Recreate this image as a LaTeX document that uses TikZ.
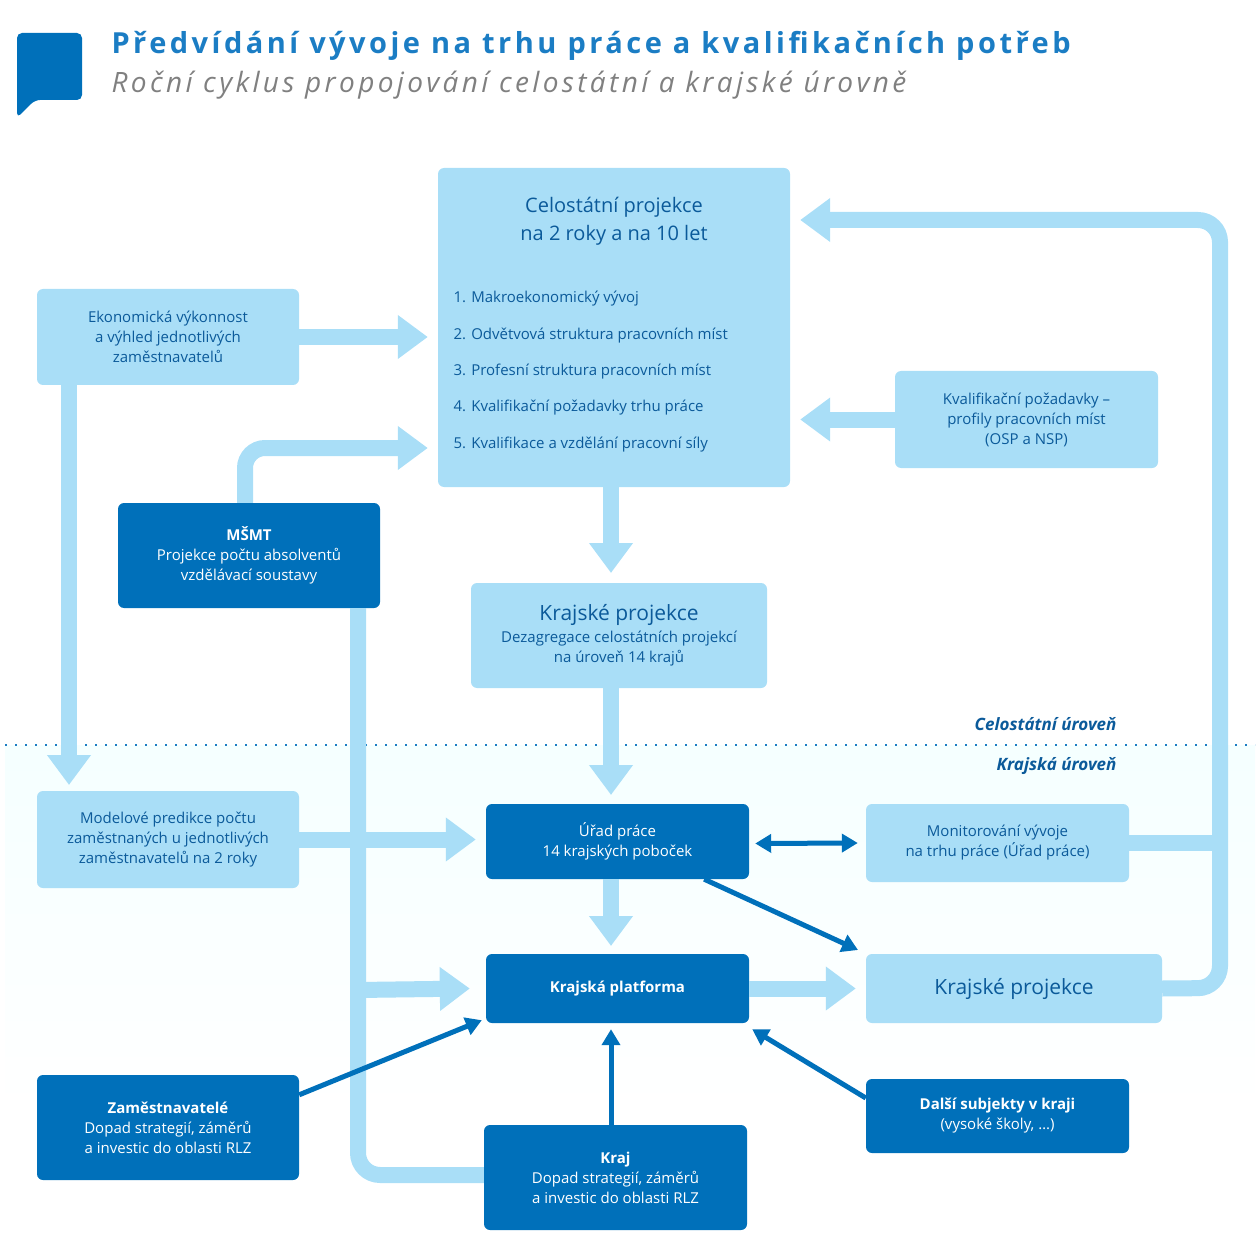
\documentclass[tikz,border=0pt]{standalone}
\usepackage{fontspec}
\setmainfont{Open Sans}
\newfontfamily\spaced[LetterSpace=12]{Open Sans}
\usetikzlibrary{arrows.meta,calc}
\definecolor{lb}{HTML}{A9DEF7}
\definecolor{db}{HTML}{0070BA}
\definecolor{tb}{HTML}{0B5A9A}
\definecolor{ttl}{HTML}{1B7DC4}
\tikzset{
 lbox/.style={fill=lb,rounded corners=6pt,align=center,text=tb,font=\fontsize{15}{20}\selectfont,inner sep=0pt},
 dbox/.style={fill=db,rounded corners=6pt,align=center,text=white,font=\fontsize{15}{20}\selectfont,inner sep=0pt},
 la/.style={draw=lb,line width=16pt,-{Triangle[width=42pt,length=30pt]}},
 ln/.style={draw=lb,line width=16pt},
 da/.style={draw=db,line width=5pt,-{Triangle[width=18pt,length=16pt]}},
}
\begin{document}
\begin{tikzpicture}[x=1pt,y=-1pt]
\useasboundingbox (0,0) rectangle (1259,1257);
\shade[top color=blue!4!cyan!4!white,bottom color=white] (5,745) rectangle (1255,1110);
\draw[ttl,line width=2.5pt,dash pattern=on 2pt off 8pt] (5,745) -- (1255,745);
% title
\fill[db,rounded corners=5pt] (17,33) -- (82,33) -- (82,100) -- (35,100) -- (17,118) -- cycle;
\node[anchor=west,text=ttl,font=\spaced\fontsize{29}{32}\selectfont\bfseries] (title) at (108,46) {Předvídání vývoje na trhu práce a kvalifikačních potřeb};
\node[anchor=west,text=gray,font=\spaced\fontsize{28}{32}\selectfont\itshape] (sub) at (108,85) {Roční cyklus propojování celostátní a krajské úrovně};
% boxes
\node[lbox,minimum width=352pt,minimum height=319pt] (A) at (614,327.5) {};
\node[text=tb,align=center,font=\fontsize{20}{28}\selectfont] (Ah) at (614,221) {Celostátní projekce\\na 2 roky a na 10 let};
\foreach \i/\t/\y in {1/1. Makroekonomický vývoj/299,2/2. Odvětvová struktura pracovních míst/336,3/3. Profesní struktura pracovních míst/372,4/4. Kvalifikační požadavky trhu práce/408,5/5. Kvalifikace a vzdělání pracovní síly/445}
  \node[anchor=west,text=tb,font=\fontsize{15}{18}\selectfont] (Al\i) at (450,\y) {\t};
\node[lbox,minimum width=262pt,minimum height=96pt] (ek) at (168,337) {Ekonomická výkonnost\\a výhled jednotlivých\\zaměstnavatelů};
\node[lbox,minimum width=263pt,minimum height=97pt] (kp) at (1026.5,419.5) {Kvalifikační požadavky –\\profily pracovních míst\\(OSP a NSP)};
\node[dbox,minimum width=262pt,minimum height=105pt] (ms) at (249,555.5) {\textbf{MŠMT}\\Projekce počtu absolventů\\vzdělávací soustavy};
\node[lbox,minimum width=296pt,minimum height=105pt] (kpm) at (619,635.5) {{\fontsize{21}{26}\selectfont Krajské projekce}\\[2pt]Dezagregace celostátních projekcí\\na úroveň 14 krajů};
\node[lbox,minimum width=262pt,minimum height=97pt] (mo) at (168,839.5) {Modelové predikce počtu\\zaměstnaných u jednotlivých\\zaměstnavatelů na 2 roky};
\node[dbox,minimum width=263pt,minimum height=75pt] (up) at (617.5,841.5) {Úřad práce\\14 krajských poboček};
\node[lbox,minimum width=263pt,minimum height=78pt] (mon) at (997.5,843) {Monitorování vývoje\\na trhu práce (Úřad práce)};
\node[dbox,minimum width=263pt,minimum height=69pt] (pl) at (617.5,988.5) {\textbf{Krajská platforma}};
\node[lbox,minimum width=296pt,minimum height=69pt] (krp) at (1014,988.5) {{\fontsize{21}{26}\selectfont Krajské projekce}};
\node[dbox,minimum width=262pt,minimum height=105pt] (za) at (168,1127.5) {\textbf{Zaměstnavatelé}\\Dopad strategií, záměrů\\a investic do oblasti RLZ};
\node[dbox,minimum width=263pt,minimum height=105pt] (kr) at (615.5,1177.5) {\textbf{Kraj}\\Dopad strategií, záměrů\\a investic do oblasti RLZ};
\node[dbox,minimum width=263pt,minimum height=74pt] (ds) at (997.5,1116) {\textbf{Další subjekty v kraji}\\(vysoké školy, …)};
\node[anchor=east,text=tb,font=\fontsize{17}{20}\selectfont\itshape\bfseries] (cu) at (1120,724) {Celostátní úroveň};
\node[anchor=east,text=tb,font=\fontsize{17}{20}\selectfont\itshape\bfseries] (ku) at (1120,766) {Krajská úroveň};
% light connectors
\coordinate (m1) at (358,608);
\coordinate (m2) at (358,990);
\draw[ln,rounded corners=22pt] (m1) -- (358,1175) -- (kr.west |- 0,1175);
\draw[la] (m2) -- ($(pl.west)+(-16,0)$);
\draw[la] (ek.east) -- ($(A.west |- ek.east)+(-10,0)$);
\draw[la] (ek.south -| 69,0) -- (69,785);
\draw[la,rounded corners=20pt] (ms.north -| 245,0) -- (245,448) -- ($(A.west |- 0,448)+(-10,0)$);
\draw[la] (A.south -| 611,0) -- (611,573);
\draw[la] (kp.west) -- ($(A.east |- kp.west)+(10,0)$);
\draw[la] (kpm.south -| 611,0) -- (611,795);
\draw[la] (mo.east) -- ($(up.west |- mo.east)+(-10,0)$);
\draw[la] (up.south -| 611,0) -- (611,946);
\draw[la] (pl.east) -- ($(krp.west)+(-10,0)$);
\draw[ln] (mon.east) -- (1220,843);
\draw[la,rounded corners=22pt] (krp.east) -- (1220,988) -- (1220,220) -- ($(A.east |- 0,220)+(10,0)$);
% dark connectors
\draw[db,line width=5pt,{Triangle[width=18pt,length=16pt]}-{Triangle[width=18pt,length=16pt]}] ($(up.east)+(6,2)$) -- ($(mon.west)+(-8,0)$);
\draw[da] ($(up.south east)+(-45,0)$) -- (858,950);
\draw[da] ($(za.north east)+(0,20)$) -- ($(pl.south west)+(-4,-3)$);
\draw[da] (kr.north -| 611,0) -- ($(pl.south -| 611,0)+(0,6)$);
\draw[da] ($(ds.west)+(0,-18)$) -- ($(pl.south east)+(3,6)$);
\end{tikzpicture}
\end{document}
